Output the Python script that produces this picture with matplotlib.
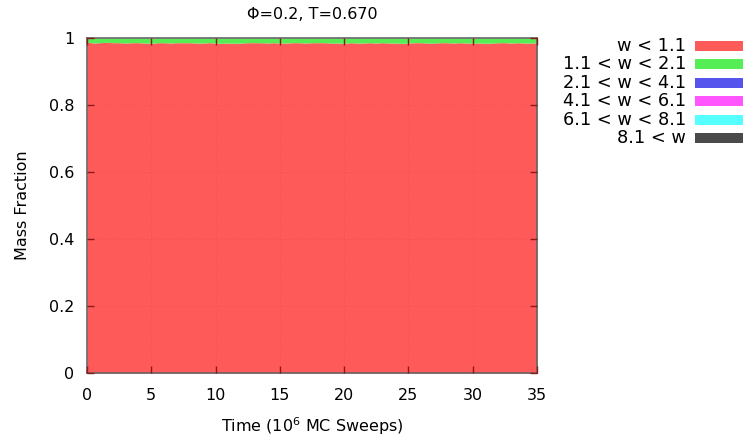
import matplotlib
matplotlib.use("Agg")
import matplotlib.pyplot as plt
import numpy as np

# time in 10^6 MC sweeps
time = [0.0, 0.5, 1.0, 1.5, 2.0, 2.5, 3.0, 3.5, 4.0, 4.5, 5.0, 5.5, 6.0, 6.5, 7.0, 7.5,
        8.0, 8.5, 9.0, 9.5, 10.0, 10.5, 11.0, 11.5, 12.0, 12.5, 13.0, 13.5, 14.0, 14.5,
        15.0, 15.5, 16.0, 16.5, 17.0, 17.5, 18.0, 18.5, 19.0, 19.5, 20.0, 20.5, 21.0,
        21.5, 22.0, 22.5, 23.0, 23.5, 24.0, 24.5, 25.0, 25.5, 26.0, 26.5, 27.0, 27.5,
        28.0, 28.5, 29.0, 29.5, 30.0, 30.5, 31.0, 31.5, 32.0, 32.5, 33.0, 33.5, 34.0,
        34.5, 35.0]

# mass fraction per cluster-size class
frac_w1 = [0.988, 0.985, 0.986, 0.987, 0.986, 0.986, 0.985, 0.986, 0.986, 0.985, 0.984,
           0.986, 0.986, 0.985, 0.986, 0.986, 0.986, 0.985, 0.985, 0.986, 0.985, 0.984,
           0.985, 0.984, 0.985, 0.986, 0.986, 0.986, 0.985, 0.986, 0.985, 0.985, 0.986,
           0.986, 0.985, 0.986, 0.986, 0.986, 0.985, 0.985, 0.984, 0.986, 0.985, 0.985,
           0.986, 0.985, 0.986, 0.985, 0.985, 0.984, 0.985, 0.986, 0.986, 0.985, 0.985,
           0.986, 0.986, 0.985, 0.986, 0.985, 0.985, 0.985, 0.984, 0.985, 0.986, 0.986,
           0.985, 0.986, 0.985, 0.985, 0.985]
frac_w2 = [round(1.0 - v, 3) for v in frac_w1]
zeros = [0.0] * len(time)
frac_w4 = zeros
frac_w6 = zeros
frac_w8 = zeros
frac_wbig = zeros

labels = ["w < 1.1", "1.1 < w < 2.1", "2.1 < w < 4.1", "4.1 < w < 6.1",
          "6.1 < w < 8.1", "8.1 < w"]
colors = ["#ff5a5a", "#55ee55", "#5555ee", "#ff55ff", "#55ffff", "#4a4a4a"]
series = [frac_w1, frac_w2, frac_w4, frac_w6, frac_w8, frac_wbig]

fig = plt.figure(figsize=(7.44, 4.38), dpi=100)
ax = fig.add_axes([87 / 744, 1 - 373 / 438, 450 / 744, 335 / 438])

t = np.array(time)
base = np.zeros_like(t)
for vals, col in zip(series, colors):
    v = np.array(vals)
    ax.fill_between(t, base, base + v, color=col, linewidth=0)
    base = base + v

ax.set_xlim(0, 35)
ax.set_ylim(0, 1)
ax.set_xticks([0, 5, 10, 15, 20, 25, 30, 35])
ax.set_yticks([0, 0.2, 0.4, 0.6, 0.8, 1])
ax.set_yticklabels(["0", "0.2", "0.4", "0.6", "0.8", "1"])
ax.grid(True, color="#a02020", linestyle=(0, (1, 3)), linewidth=0.6, alpha=0.18)
ax.set_axisbelow(False)
ax.tick_params(direction="in", length=5, width=1, color="#8b1a1a",
               labelsize=11.5, top=True, right=True)
ax.tick_params(axis="x", pad=11)
ax.tick_params(axis="y", pad=9)
for s in ax.spines.values():
    s.set_color("#666666")
    s.set_linewidth(1.2)

ax.set_xlabel("Time (10$^6$ MC Sweeps)", fontsize=11.5, labelpad=9)
ax.set_ylabel("Mass Fraction", fontsize=11.5, labelpad=14)
ax.set_title("Φ=0.2, T=0.670", fontsize=11.5, pad=14)

# legend block on the right
y0 = 46
for i, (lab, col) in enumerate(zip(labels, colors)):
    yy = 1 - (y0 + i * 18.4) / 438
    fig.text(686 / 744, yy, lab, ha="right", va="center", fontsize=12.8)
    fig.patches.append(plt.Rectangle((695 / 744, yy - 5 / 438), 48 / 744, 10 / 438,
                                     transform=fig.transFigure, facecolor=col,
                                     edgecolor="none"))

fig.savefig("out.png", dpi=100)
